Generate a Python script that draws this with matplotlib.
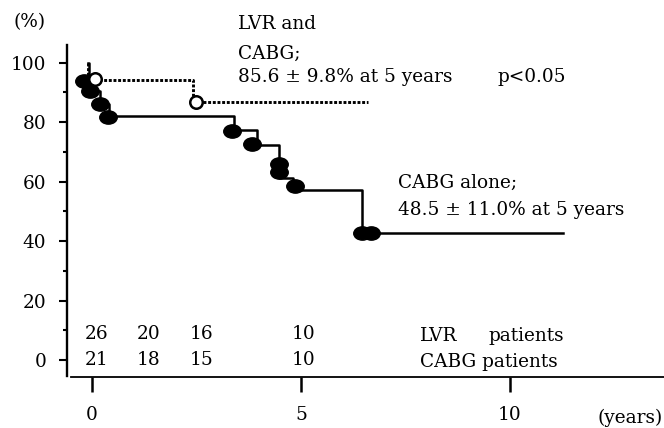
import numpy as np
import matplotlib
matplotlib.use("Agg")
import matplotlib.pyplot as plt
from matplotlib.path import Path
from matplotlib.ticker import MultipleLocator

W, H = 664, 428
plt.rcParams["font.family"] = ["DejaVu Serif"]
FS = 13.3

# Kaplan-Meier steps (years, % survival)
cabg_t = [-0.1, -0.08, 0.0, 0.2, 0.4, 3.40, 3.94, 4.47, 4.82, 6.45, 11.27]
cabg_s = [100, 93.9, 90.5, 86.1, 82.2, 77.4, 72.2, 61.4, 57.2, 42.8, 42.8]
cabg_mark_t = [-0.2, -0.05, 0.19, 0.39, 3.34, 3.82, 4.48, 4.48, 4.85, 6.45, 6.67]
cabg_mark_s = [93.9, 90.6, 86.1, 81.7, 77.2, 72.6, 66.1, 63.3, 58.6, 42.8, 42.8]

lvr_t = [-0.1, -0.1, 2.42, 6.6]
lvr_s = [100, 94.3, 86.7, 86.7]
lvr_mark_t = [0.07, 2.49]
lvr_mark_s = [94.4, 86.7]

# patients at risk
risk_x = [0.1, 1.36, 2.63, 5.05]
lvr_risk = [26, 20, 16, 10]
cabg_risk = [21, 18, 15, 10]

xticks = [0, 5, 10]
yticks = [0, 20, 40, 60, 80, 100]

fig = plt.figure(figsize=(W / 100, H / 100), dpi=100)
ax = fig.add_axes([66.5 / W, (H - 377.3) / H, (664.2 - 66.5) / W, (377.3 - 44.85) / H])
ax.set_xlim(-0.61, 13.69)
ax.set_ylim(-5.75, 106)

circ = Path.unit_circle()
ell = Path(circ.vertices * [1, 0.76], circ.codes)

ax.plot(cabg_t, cabg_s, drawstyle="steps-post", color="black", lw=1.8, zorder=2)
ax.plot(cabg_mark_t, cabg_mark_s, ls="none", marker=ell, ms=12.6, mfc="black", mec="black", zorder=3)
ax.plot(lvr_t, lvr_s, drawstyle="steps-post", color="black", lw=2.1, dashes=(1, 0.6),
        dash_capstyle="butt", zorder=2)
ax.plot(lvr_mark_t, lvr_mark_s, ls="none", marker="o", ms=9, mfc="white", mec="black", mew=1.8, zorder=4)

for sp in ("top", "right"):
    ax.spines[sp].set_visible(False)
ax.spines["left"].set_linewidth(1.7)
ax.spines["left"].set_bounds(-5.3, 105.9)
ax.spines["bottom"].set_linewidth(1.3)
ax.spines["bottom"].set_bounds(-0.5, 13.69)

ax.set_xticks(xticks)
ax.set_yticks(yticks)
ax.yaxis.set_minor_locator(MultipleLocator(10))
ax.tick_params(axis="x", length=11, width=1.8, pad=9.5, labelsize=FS)
ax.tick_params(axis="y", which="major", length=6, width=1.5, pad=8.6, labelsize=FS)
ax.tick_params(axis="y", which="minor", length=3, width=1.5)

for x, a, b in zip(risk_x, lvr_risk, cabg_risk):
    ax.text(x, 8.7, str(a), ha="center", va="center", fontsize=FS)
    ax.text(x, 0.2, str(b), ha="center", va="center", fontsize=FS)


def ftext(x, y, s, **kw):
    fig.text(x / W, 1 - y / H, s, fontsize=FS, va="baseline", **kw)


ftext(420, 341, "LVR")
ftext(488, 341, "patients")
ftext(420, 367, "CABG patients")
ftext(14, 27, "(%)")
ftext(238, 29, "LVR and")
ftext(238, 59, "CABG;")
ftext(238, 82, "85.6 \u00b1 9.8% at 5 years")
ftext(497, 82, "p<0.05")
ftext(398, 188, "CABG alone;")
ftext(398, 215, "48.5 \u00b1 11.0% at 5 years")
ftext(663, 423, "(years)", ha="right")

fig.savefig("out.png", dpi=100)
